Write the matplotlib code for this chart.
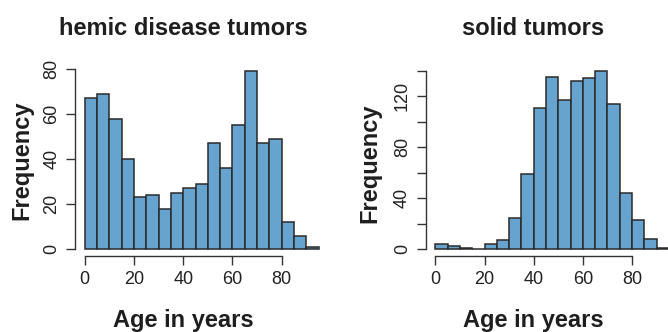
import matplotlib
matplotlib.use("Agg")
import matplotlib.pyplot as plt

plt.rcParams['font.family'] = ['Liberation Sans', 'DejaVu Sans']

# histogram bins (5-year age groups)
bin_edges = [0, 5, 10, 15, 20, 25, 30, 35, 40, 45, 50, 55, 60, 65, 70, 75, 80, 85, 90, 95]
hemic_counts = [67, 69, 58, 40, 23, 24, 18, 25, 27, 29, 47, 36, 55, 79, 47, 49, 12, 6, 1]
solid_counts = [4, 2, 1, 0, 4, 7, 24, 59, 111, 135, 117, 132, 134, 140, 114, 44, 23, 8, 1]

x_ticks = [0, 20, 40, 60, 80]
hemic_yticks = [0, 20, 40, 60, 80]
hemic_ylabels = ['0', '20', '40', '60', '80']
solid_yticks = [0, 20, 40, 60, 80, 100, 120, 140]
solid_ylabels = ['0', '', '40', '', '80', '', '120', '']

bar_color = '#66a3cf'
edge_color = '#2a2a2a'
axis_color = '#333333'

W, H = 668, 332
fig = plt.figure(figsize=(W / 100, H / 100), dpi=100)


def px_rect(x0, x1, y_top, y_bot):
    return [x0 / W, 1 - y_bot / H, (x1 - x0) / W, (y_bot - y_top) / H]


def draw_hist(rect, counts, yticks, ylabels, ymax):
    ax = fig.add_axes(rect)
    ax.bar(bin_edges[:-1], counts, width=5, align='edge', color=bar_color,
           edgecolor=edge_color, linewidth=1.1, clip_on=False)
    ax.set_xlim(-3.8, 83.8)
    ax.set_ylim(-0.04 * ymax, 1.04 * ymax)
    for s in ['top', 'right']:
        ax.spines[s].set_visible(False)
    ax.spines['left'].set_bounds(yticks[0], yticks[-1])
    ax.spines['bottom'].set_bounds(x_ticks[0], x_ticks[-1])
    for s in ['left', 'bottom']:
        ax.spines[s].set_color(axis_color)
        ax.spines[s].set_linewidth(1.0)
    ax.set_xticks(x_ticks)
    ax.set_xticklabels([str(v) for v in x_ticks])
    ax.set_yticks(yticks)
    ax.set_yticklabels(ylabels, rotation=90, va='center')
    ax.tick_params(length=6.8, width=1.0, color=axis_color, labelcolor='#222222',
                   labelsize=13, pad=4)
    ax.patch.set_visible(False)
    return ax


draw_hist(px_rect(75.3, 291.1, 64.4, 256.1), hemic_counts, hemic_yticks, hemic_ylabels, 79)
draw_hist(px_rect(426.0, 641.4, 63.6, 256.1), solid_counts, solid_yticks, solid_ylabels, 140)

bold = dict(fontsize=17, fontweight='bold', color='#1e1e1e')
fig.text(183 / W, 1 - 35 / H, 'hemic disease tumors', ha='center', va='baseline', **bold)
fig.text(533.5 / W, 1 - 35 / H, 'solid tumors', ha='center', va='baseline', **bold)
fig.text(183 / W, 1 - 326.5 / H, 'Age in years', ha='center', va='baseline', **bold)
fig.text(533.5 / W, 1 - 326.5 / H, 'Age in years', ha='center', va='baseline', **bold)
fig.text(22 / W, 1 - 160 / H, 'Frequency', rotation=90, ha='center', va='center', **bold)
fig.text(370 / W, 1 - 163 / H, 'Frequency', rotation=90, ha='center', va='center', **bold)

fig.savefig('out.png', dpi=100)
